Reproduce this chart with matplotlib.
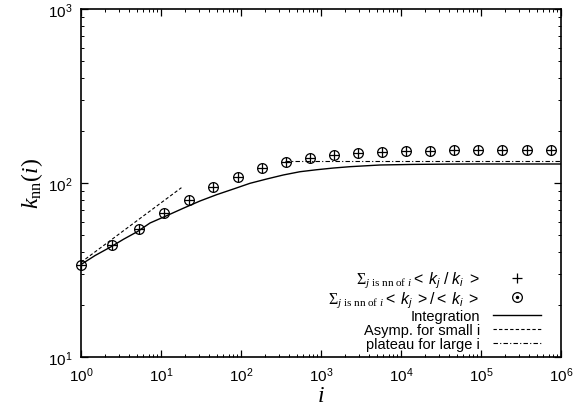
import math
import matplotlib
matplotlib.use("Agg")
import matplotlib.pyplot as plt
from matplotlib.ticker import LogLocator, FuncFormatter, NullFormatter
from matplotlib.lines import Line2D
from matplotlib.legend_handler import HandlerTuple

plt.rcParams['mathtext.fontset'] = 'custom'
plt.rcParams['mathtext.rm'] = 'Liberation Serif'
plt.rcParams['mathtext.it'] = 'Liberation Serif:italic'
plt.rcParams['mathtext.sf'] = 'Liberation Sans'
plt.rcParams['mathtext.cal'] = 'Liberation Sans:italic'
plt.rcParams['font.family'] = ['Liberation Sans', 'DejaVu Sans']

# data
i_pts = [1, 2.45, 5.3, 11, 22.3, 45, 90.5, 181, 362, 724, 1450, 2900, 5790,
         11600, 23200, 46300, 92700, 185000, 371000, 741000]
k_ratio = [33.8, 43.8, 54.5, 67.0, 80.3, 94.5, 108.7, 122, 132, 138.7, 145.5,
           148.7, 151, 152.5, 153.5, 154, 154.5, 155, 155, 155.5]
k_mean = [33.8, 43.8, 54.5, 67.0, 80.3, 94.5, 108.7, 122, 132, 138.7, 145.5,
          148.7, 151, 152.5, 153.5, 154, 154.5, 155, 155, 155.5]

integ_i = [1, 1.5, 2.35, 3.4, 5.05, 7.29, 11.8, 19.0, 30.7, 49.7, 80.1, 129.6,
           209, 338, 546, 884, 1425, 2305, 5465, 14000, 40000, 1e5, 1e6]
integ_k = [34, 38.3, 42.9, 47.5, 52.5, 58.9, 64.9, 71.6, 78.8, 85.7, 92.3, 99.6,
           105.4, 111.2, 116.1, 119.2, 121.9, 124.1, 126.9, 127.9, 128.4, 128.6, 128.6]

asymp_i = [1, 18]
asymp_k = [35, 94]

plateau_i = [350, 1e6]
plateau_k = [133.5, 133.5]

fig = plt.figure(figsize=(5.82, 4.14), dpi=100)
ax = fig.add_axes([81/582, 1-358/414, 480/582, 348/414])

ax.set_xscale('log')
ax.set_yscale('log')
ax.set_xlim(1, 1e6)
ax.set_ylim(10, 1000)

l_int, = ax.plot(integ_i, integ_k, color='black', lw=1.0)
l_asy, = ax.plot(asymp_i, asymp_k, color='black', lw=0.8, linestyle=(0, (3, 2)))
l_pla, = ax.plot(plateau_i, plateau_k, color='black', lw=0.8, linestyle=(0, (4, 2, 1, 2)))

p_plus, = ax.plot(i_pts, k_ratio, linestyle='none', marker='+', ms=7.5, mew=0.9,
                  color='black', clip_on=False)
p_circ, = ax.plot(i_pts, k_mean, linestyle='none', marker='o', ms=7, mew=0.9,
                  mfc='none', mec='black', clip_on=False)
p_dot = Line2D([], [], linestyle='none', marker='o', ms=1.5, color='black')

for sp in ax.spines.values():
    sp.set_linewidth(1.2)

ax.tick_params(which='both', direction='in', top=True, right=True, labelsize=11)
ax.tick_params(which='major', length=5, width=0.9, pad=6)
ax.tick_params(which='minor', length=2.5, width=0.7)
ax.xaxis.set_major_locator(LogLocator(base=10, numticks=10))
ax.yaxis.set_major_locator(LogLocator(base=10, numticks=10))
ax.xaxis.set_minor_locator(LogLocator(base=10, subs=range(2, 10), numticks=20))
ax.yaxis.set_minor_locator(LogLocator(base=10, subs=range(2, 10), numticks=20))
fmt = FuncFormatter(lambda v, p: r'$\mathsf{10^{%d}}$' % round(math.log10(v)))
ax.xaxis.set_major_formatter(fmt)
ax.yaxis.set_major_formatter(fmt)
ax.xaxis.set_minor_formatter(NullFormatter())
ax.yaxis.set_minor_formatter(NullFormatter())

ax.set_xlabel(r'$i$', fontsize=17, labelpad=0)
ax.set_ylabel(r'$k_{\mathrm{nn}}(i)$', fontsize=17, labelpad=2)

lab1 = r'$\Sigma_{j\ \mathrm{is\ nn\ of}\ i}\mathsf{<}\ \mathcal{k}_{\mathcal{j}}\ \mathsf{/}\ \mathcal{k}_{\mathcal{i}}\ \mathsf{>}$'
lab2 = r'$\Sigma_{j\ \mathrm{is\ nn\ of}\ i}\mathsf{<}\ \mathcal{k}_{\mathcal{j}}\ \mathsf{>/<}\ \mathcal{k}_{\mathcal{i}}\ \mathsf{>}$'

leg = ax.legend([p_plus, (p_circ, p_dot), l_int, l_asy, l_pla],
                [lab1, lab2, 'Integration', 'Asymp. for small i', 'plateau for large i'],
                handler_map={tuple: HandlerTuple(ndivide=1, pad=0)},
                loc='lower right', bbox_to_anchor=(0.98, -0.012), frameon=False,
                markerfirst=False, fontsize=10.5, handlelength=3.3, handletextpad=0.9,
                labelspacing=0.0, borderpad=0.2)
for t in leg.get_texts()[:2]:
    t.set_fontsize(11.5)

fig.savefig('out.png', dpi=100)
